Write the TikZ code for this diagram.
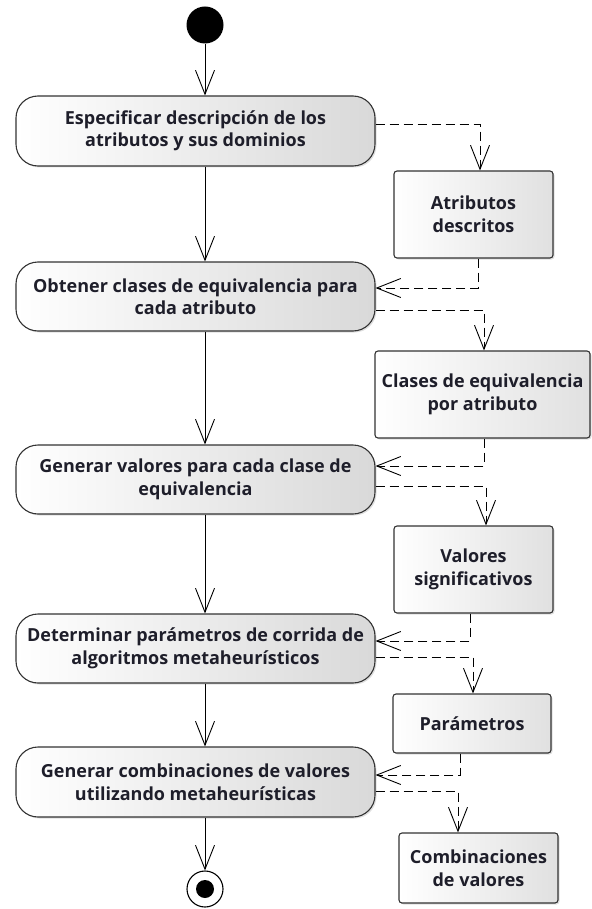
\documentclass[tikz,border=0pt]{standalone}
\usepackage{fontspec}
\setmainfont{Open Sans}
\usetikzlibrary{arrows.meta,shadows}

\definecolor{edgegray}{HTML}{333333}
\definecolor{textnavy}{HTML}{1E1E2A}

\tikzset{
  action/.style={draw=edgegray, line width=1.1pt, rounded corners=22pt,
    left color=white, right color=black!15,
    drop shadow={shadow xshift=1.5pt, shadow yshift=-1.5pt, opacity=.25},
    minimum width=359pt, minimum height=70pt, inner sep=0pt,
    align=center, text=textnavy, font=\fontsize{18}{22.5}\selectfont\bfseries},
  object/.style={draw=edgegray, line width=1.1pt, rounded corners=3pt,
    left color=white, right color=black!12,
    drop shadow={shadow xshift=1.5pt, shadow yshift=-1.5pt, opacity=.25},
    minimum width=159pt, minimum height=87pt, inner sep=0pt,
    align=center, text=textnavy, font=\fontsize{18}{22.5}\selectfont\bfseries},
  flow/.style={draw=black, line width=0.9pt, -{Straight Barb[length=24pt,width=19pt]}},
  objflow/.style={flow, dash pattern=on 9pt off 5pt},
}

\begin{document}
\begin{tikzpicture}[x=1pt,y=-1pt]
    \useasboundingbox (0,0) rectangle (591,909);

    % Initial node
    \node[circle, fill=black, minimum size=37pt, inner sep=0pt] (start) at (205,25) {};

    % Actions
    \node[action] (a1) at (195.5,131) {Especificar descripción de los\\atributos y sus dominios};
    \node[action, minimum height=69pt] (a2) at (195.5,296.5) {Obtener clases de equivalencia para\\cada atributo};
    \node[action, minimum height=69pt] (a3) at (195.5,479.5) {Generar valores para cada clase de\\equivalencia};
    \node[action, minimum height=69pt] (a4) at (195.5,648.5) {Determinar parámetros de corrida de\\algoritmos metaheurísticos};
    \node[action] (a5) at (195.5,782) {Generar combinaciones de valores\\utilizando metaheurísticas};

    % Final node
    \node[circle, draw=black, fill=white, line width=1.1pt, minimum size=36pt, inner sep=0pt] (stop) at (205,889) {};
    \node[circle, fill=black, minimum size=18pt, inner sep=0pt] (stopdot) at (stop) {};

    % Objects
    \node[object] (o1) at (473.5,214.5) {Atributos\\descritos};
    \node[object, minimum width=215pt] (o2) at (482.5,394.5) {Clases de equivalencia\\por atributo};
    \node[object] (o3) at (473.5,569.5) {Valores\\significativos};
    \node[object, minimum width=158pt, minimum height=59pt] (o4) at (472,723.5) {Parámetros};
    \node[object, minimum height=70pt] (o5) at (478.5,868) {Combinaciones\\de valores};

    % Control flow
    \draw[flow] (start.south) -- (a1.north -| start);
    \draw[flow] (a1.south -| start) -- (a2.north -| start);
    \draw[flow] (a2.south -| start) -- (a3.north -| start);
    \draw[flow] (a3.south -| start) -- (a4.north -| start);
    \draw[flow] (a4.south -| start) -- (a5.north -| start);
    \draw[flow] (a5.south -| start) -- (stop.north);

    % Object flow
    \draw[objflow] ([yshift=7pt]a1.east) -| ([xshift=6.5pt]o1.north);
    \draw[objflow] ([xshift=4.5pt]o1.south) |- ([yshift=8.5pt]a2.east);
    \draw[objflow] ([yshift=-13.5pt]a2.east) -| ([xshift=1.5pt]o2.north);
    \draw[objflow] ([xshift=1.5pt]o2.south) |- ([yshift=13.5pt]a3.east);
    \draw[objflow] ([yshift=-6.5pt]a3.east) -| ([xshift=12.5pt]o3.north);
    \draw[objflow] ([xshift=-3.5pt]o3.south) |- ([yshift=7.5pt]a4.east);
    \draw[objflow] ([yshift=-8.5pt]a4.east) -| ([xshift=1pt]o4.north);
    \draw[objflow] ([xshift=-12pt]o4.south) |- ([yshift=7pt]a5.east);
    \draw[objflow] ([yshift=-9pt]a5.east) -| ([xshift=-20.5pt]o5.north);
\end{tikzpicture}
\end{document}
